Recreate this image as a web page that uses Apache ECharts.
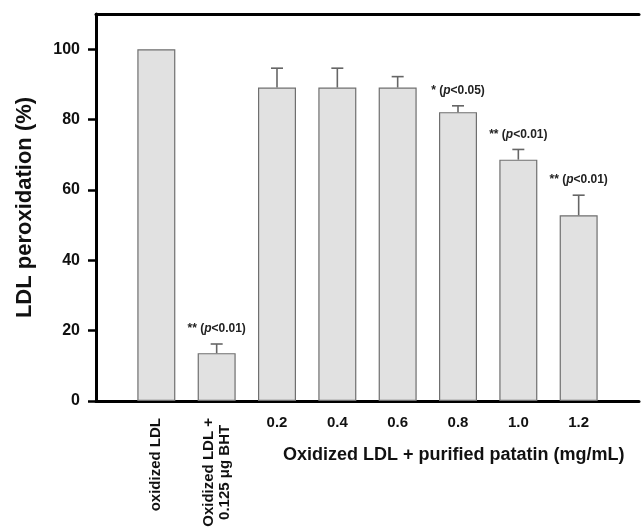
<!DOCTYPE html>
<html>
<head>
<meta charset="utf-8">
<script src="https://cdn.jsdelivr.net/npm/echarts@6/dist/echarts.min.js"></script>
<style>html,body{margin:0;padding:0;background:#fff}#c{width:642px;height:527px}</style>
</head>
<body>
<div id="c"></div>
<script>
const categories = ['', 'oxidized LDL', 'Oxidized LDL +\n0.125 μg BHT', '0.2', '0.4', '0.6', '0.8', '1.0', '1.2', ''];
const rotatedLabels = ['', 'oxidized LDL', 'Oxidized LDL +\n0.125 μg BHT', '', '', '', '', '', '', ''];
const values = [null, 100, 13.6, 89.1, 89.1, 89.1, 82.1, 68.6, 52.8, null];
const errors = [null, 0, 2.6, 5.5, 5.5, 3.1, 1.8, 2.9, 5.7, null];
const annotations = ['', '', '** ({i|p}<0.01)', '', '', '', '* ({i|p}<0.05)', '** ({i|p}<0.01)', '** ({i|p}<0.01)', ''];
const yTicks = [0, 20, 40, 60, 80, 100];

const chart = echarts.init(document.getElementById('c'));
const FONT = 'Liberation Sans, Arial, sans-serif';

const measureCtx = document.createElement('canvas').getContext('2d');
function maxLineWidth(text, font) {
  measureCtx.font = font;
  return Math.max.apply(null, text.split('\n').map(s => measureCtx.measureText(s).width));
}

chart.setOption({
  animation: false,
  backgroundColor: '#fff',
  title: {
    text: 'Oxidized LDL + purified patatin (mg/mL)',
    left: 278, top: 441,
    textStyle: {fontFamily: FONT, fontSize: 18, fontWeight: 'bold', color: '#111'}
  },
  grid: {left: 96, right: 0, top: 14, bottom: 126, containLabel: false},
  xAxis: [{
    type: 'category',
    data: categories,
    boundaryGap: false,
    position: 'bottom',
    axisLine: {lineStyle: {color: '#000', width: 3}},
    axisTick: {show: false},
    axisLabel: {
      interval: 0, margin: 14,
      fontFamily: FONT, fontSize: 15, fontWeight: 'bold', color: '#111',
      formatter: (v, i) => (i >= 3 && i <= 8) ? v : ''
    },
    splitLine: {show: false}
  }, {
    type: 'category',
    data: categories,
    boundaryGap: false,
    position: 'top',
    axisLine: {lineStyle: {color: '#000', width: 3}},
    axisTick: {show: false},
    axisLabel: {show: false},
    splitLine: {show: false}
  }],
  yAxis: {
    type: 'value',
    min: 0, max: 110, interval: 10,
    name: 'LDL peroxidation (%)',
    nameLocation: 'middle',
    nameGap: 60,
    nameTextStyle: {fontFamily: FONT, fontSize: 22, fontWeight: 'bold', color: '#111'},
    axisLine: {show: true, lineStyle: {color: '#000', width: 3}},
    axisTick: {show: true, length: 8, lineStyle: {color: '#000', width: 2.5}, customValues: yTicks},
    axisLabel: {
      margin: 16, fontFamily: FONT, fontSize: 16, fontWeight: 'bold', color: '#111',
      customValues: yTicks
    },
    splitLine: {show: false}
  },
  series: [{
    type: 'bar',
    data: values,
    barWidth: 38,
    itemStyle: {color: '#e1e1e1', borderColor: '#6f6f6f', borderWidth: 1.2},
    z: 2
  }, {
    type: 'custom',
    data: values.map((v, i) => [i, v == null ? 0 : v, errors[i] == null ? 0 : errors[i]]),
    z: 3,
    renderItem: function (params, api) {
      const i = params.dataIndex;
      if (values[i] == null) return null;
      const v = api.value(1), e = api.value(2);
      const base = api.coord([i, v]);
      const top = api.coord([i, v + e]);
      const children = [];
      if (e > 0) {
        children.push({type: 'line', shape: {x1: base[0], y1: base[1], x2: top[0], y2: top[1]},
          style: {stroke: '#666', lineWidth: 1.6}});
        children.push({type: 'line', shape: {x1: top[0] - 6, y1: top[1], x2: top[0] + 6, y2: top[1]},
          style: {stroke: '#666', lineWidth: 1.6}});
      }
      if (annotations[i]) {
        children.push({type: 'text', x: top[0], y: top[1] - 15,
          style: {text: annotations[i], x: 0, y: 0, align: 'center', verticalAlign: 'middle',
            fontFamily: FONT, fontSize: 12, fontWeight: 'bold', fill: '#222',
            rich: {i: {fontStyle: 'italic', fontFamily: FONT, fontSize: 12, fontWeight: 'bold', fill: '#222'}}}});
      }
      if (rotatedLabels[i]) {
        const b = api.coord([i, 0]);
        const w = maxLineWidth(rotatedLabels[i], 'bold 15px ' + FONT);
        children.push({type: 'text', x: b[0], y: b[1] + 17 + w / 2, rotation: Math.PI / 2,
          style: {text: rotatedLabels[i], align: 'center', verticalAlign: 'middle',
            fontFamily: FONT, fontSize: 15, fontWeight: 'bold', fill: '#111', lineHeight: 16}});
      }
      return {type: 'group', children: children};
    }
  }]
});
</script>
</body>
</html>
